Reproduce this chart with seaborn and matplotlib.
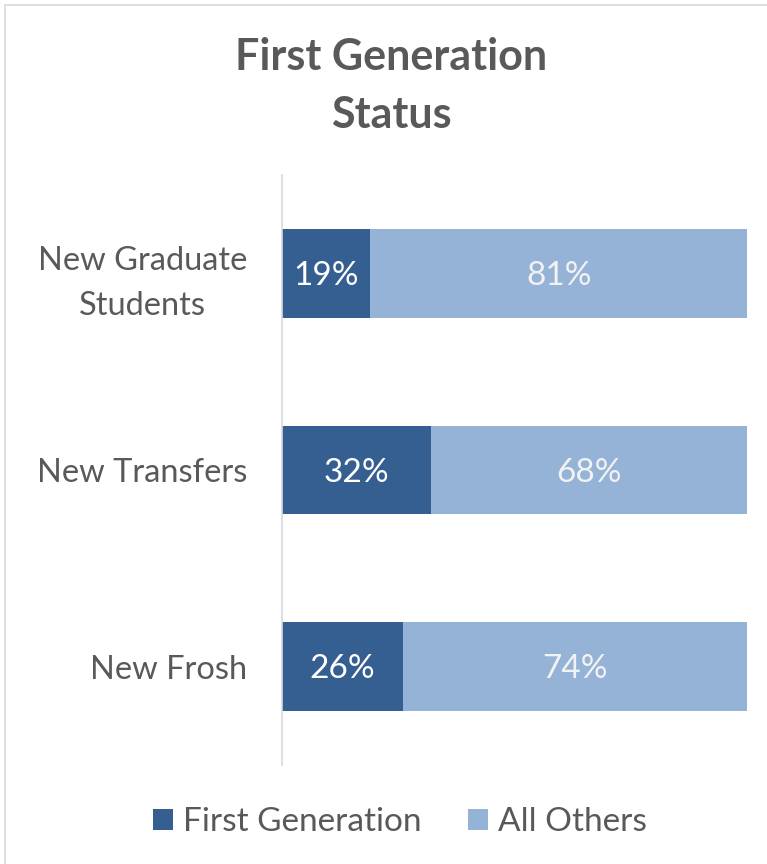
import matplotlib
matplotlib.use("Agg")
import matplotlib.pyplot as plt
import seaborn as sns
import pandas as pd
from matplotlib.patches import Patch, Rectangle

categories = ["New Graduate\nStudents", "New Transfers", "New Frosh"]
first_gen = [19, 32, 26]
all_others = [81, 68, 74]
series_names = ["First Generation", "All Others"]

dark = "#365F91"
light = "#95B3D7"
txt = "#595959"

sns.set_theme(style="white")
plt.rcParams['font.family'] = ['Lato', 'DejaVu Sans']

df = pd.DataFrame({"cat": categories, "fg": first_gen, "ao": all_others})
df["total"] = df["fg"] + df["ao"]

fig = plt.figure(figsize=(7.67, 8.64), dpi=100)
ax = fig.add_axes([282/767, 1-765/864, 465/767, 590/864])

sns.barplot(data=df, y="cat", x="total", color=light, orient="h", width=0.45,
            ax=ax, saturation=1, edgecolor="none")
sns.barplot(data=df, y="cat", x="fg", color=dark, orient="h", width=0.45,
            ax=ax, saturation=1, edgecolor="none")

c_total, c_fg = ax.containers[0], ax.containers[1]
for bar, v in zip(c_fg, first_gen):
    y = bar.get_y() + bar.get_height() / 2
    ax.annotate(f"{v}%", (v / 2, y), xytext=(0, -2), textcoords="offset points",
                ha="center", va="center", color="white", fontsize=24)
for bar, v, f in zip(c_total, all_others, first_gen):
    y = bar.get_y() + bar.get_height() / 2
    ax.annotate(f"{v}%", (f + v / 2, y), xytext=(0, -2), textcoords="offset points",
                ha="center", va="center", color="#F2F2F2", fontsize=24)

ax.set_xlim(0, 100)
ax.set_ylim(2.5, -0.5)
ax.set_xlabel("")
ax.set_ylabel("")
ax.set_xticks([])
ax.tick_params(axis="y", length=0, pad=25, labelsize=23.5, labelcolor=txt)
for lbl in ax.get_yticklabels():
    lbl.set_multialignment("center")
    lbl.set_linespacing(1.6)
for s in ["top", "right", "bottom"]:
    ax.spines[s].set_visible(False)
ax.spines["left"].set_color("#D9D9D9")
ax.spines["left"].set_linewidth(1.2)

fig.text(391/767, 1-86/864, "First Generation\nStatus", ha="center", va="center",
         fontsize=31, fontweight="bold", color=txt, linespacing=1.55)

handles = [Patch(facecolor=dark, edgecolor="none"), Patch(facecolor=light, edgecolor="none")]
fig.legend(handles, series_names, loc="center", bbox_to_anchor=(400/767, 1-822/864),
           ncol=2, frameon=False, fontsize=24, labelcolor=txt, handlelength=0.6,
           handleheight=0.6, handletextpad=0.3, columnspacing=1.4)

fig.patches.append(Rectangle((5/767, -0.01), 1, 1.01 - 5/864, transform=fig.transFigure,
                             fill=False, edgecolor="#D9D9D9", linewidth=1.2))

fig.savefig("out.png", dpi=100)
